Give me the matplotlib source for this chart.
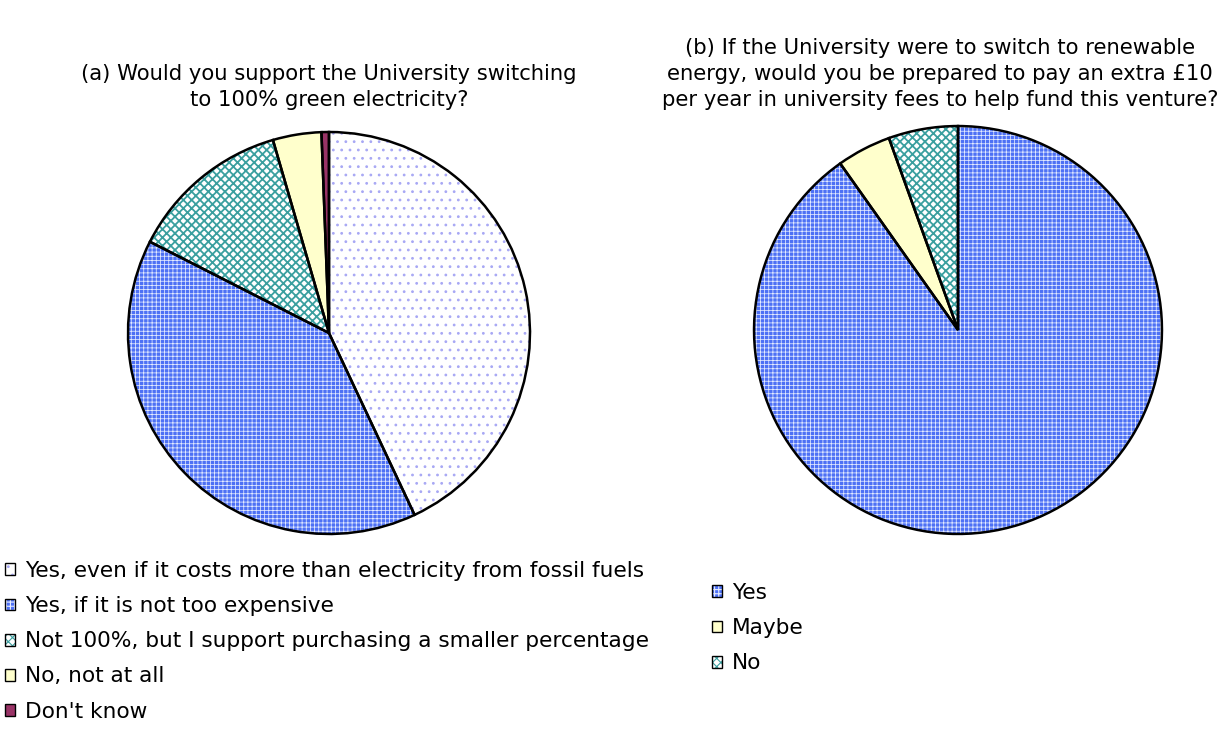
import matplotlib
matplotlib.use("Agg")
import matplotlib.pyplot as plt
from matplotlib.patches import Patch
from matplotlib.legend_handler import HandlerTuple

plt.rcParams["font.family"] = ["DejaVu Sans"]
plt.rcParams["hatch.linewidth"] = 0.8

# Data
labels_a = [
    "Yes, even if it costs more than electricity from fossil fuels",
    "Yes, if it is not too expensive",
    "Not 100%, but I support purchasing a smaller percentage",
    "No, not at all",
    "Don't know",
]
values_a = [43.0, 39.5, 13.0, 3.9, 0.6]

labels_b = ["Yes", "Maybe", "No"]
values_b = [90.2, 4.3, 5.5]

title_a = "(a) Would you support the University switching\nto 100% green electricity?"
title_b = ("(b) If the University were to switch to renewable\n"
           "energy, would you be prepared to pay an extra \u00a310\n"
           "per year in university fees to help fund this venture?")

FS_TITLE = 15.2
FS_LEG = 15.6

# Styles: (facecolor, hatch colour, hatch, hatch linewidth)
styles = {
    "white": ("#ffffff", "#a8a8f4", "..", 0.8),
    "blue": ("#4d70f5", "#e4ebff", "++++", 0.55),
    "teal": ("#ffffff", "#3a9f9f", "xxxx", 1.3),
    "yellow": ("#ffffcc", "#ffffcc", None, 0.8),
    "maroon": ("#993366", "#993366", None, 0.8),
}
styles_a = ["white", "blue", "teal", "yellow", "maroon"]
styles_b = ["blue", "yellow", "teal"]

W, H = 1222, 729
fig = plt.figure(figsize=(W / 100, H / 100), dpi=100)


def px_axes(cx, cy, r):
    return fig.add_axes([(cx - r) / W, 1 - (cy + r) / H, 2 * r / W, 2 * r / H])


def style_patch(p, key):
    fc, hc, hatch, hlw = styles[key]
    p.set_facecolor(fc)
    p.set_edgecolor(hc)
    p.set_linewidth(0)
    if hatch:
        p.set_hatch(hatch)
        if hasattr(p, "set_hatch_linewidth"):
            p.set_hatch_linewidth(hlw)


def draw_pie(ax, values, keys):
    fills, _ = ax.pie(values, startangle=90, counterclock=False, radius=1,
                      wedgeprops=dict(linewidth=0))
    for w, k in zip(fills, keys):
        style_patch(w, k)
    ax.pie(values, startangle=90, counterclock=False, radius=1,
           wedgeprops=dict(facecolor="none", edgecolor="black", linewidth=1.8))
    ax.set_xlim(-1.01, 1.01)
    ax.set_ylim(-1.01, 1.01)
    ax.set_aspect("equal")
    ax.axis("off")


def legend_handles(keys):
    handles = []
    for k in keys:
        fill = Patch()
        style_patch(fill, k)
        outline = Patch(facecolor="none", edgecolor="black", linewidth=1.0)
        handles.append((fill, outline))
    return handles


ax_a = px_axes(329, 333, 203)
draw_pie(ax_a, values_a, styles_a)
ax_b = px_axes(958, 330, 206)
draw_pie(ax_b, values_b, styles_b)

fig.text(329 / W, 1 - 87 / H, title_a, ha="center", va="center",
         fontsize=FS_TITLE, linespacing=1.36)
fig.text(940 / W, 1 - 74 / H, title_b, ha="center", va="center",
         fontsize=FS_TITLE, linespacing=1.36)

leg_kw = dict(loc="upper left", frameon=False, fontsize=FS_LEG,
              handlelength=0.46, handleheight=0.46, handletextpad=0.48,
              labelspacing=0.7, borderaxespad=0, borderpad=0,
              handler_map={tuple: HandlerTuple(ndivide=1)})

fig.legend(legend_handles(styles_a), labels_a,
           bbox_to_anchor=(5 / W, 1 - 561 / H), **leg_kw)
fig.legend(legend_handles(styles_b), labels_b,
           bbox_to_anchor=(712 / W, 1 - 583 / H), **leg_kw)

fig.savefig("out.png", dpi=100)
